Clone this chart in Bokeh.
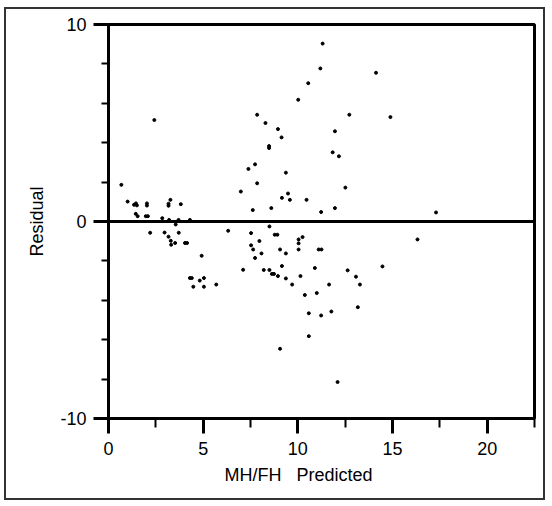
from bokeh.plotting import figure
from bokeh.models import Range1d, FixedTicker, Span, Title, PrintfTickFormatter
from bokeh.embed import file_html
from bokeh.resources import INLINE

# Predicted MH/FH values (x) and residuals (y)
predicted = [
    0.68, 1.01, 1.35, 1.45, 1.50, 2.03, 2.03, 1.44, 1.54, 1.97, 2.08, 2.84,
    3.27, 3.17, 3.17, 3.82, 2.20, 2.96, 3.17, 3.29, 3.31, 3.52, 3.71, 4.04,
    4.15, 4.92, 4.30, 4.40, 4.48, 4.82, 5.04, 5.04, 5.69, 6.32, 6.99, 7.11,
    7.39, 3.20, 3.70, 4.30, 3.55, 2.42,
    11.31, 11.19, 14.13, 10.55, 10.02, 7.85, 12.72, 8.29, 8.95, 11.96, 9.14,
    8.48, 8.48, 11.84, 12.17, 7.74, 9.37, 7.85, 12.51, 9.48, 9.16, 9.58,
    10.46, 7.62, 8.60, 11.23, 11.96,
    8.50, 7.53, 8.78, 8.92, 7.97, 7.53, 7.64, 10.25, 10.04, 10.04, 10.04,
    9.06, 8.08, 9.37, 11.10, 11.25, 7.74, 8.20, 8.50, 9.16, 10.90, 12.63,
    14.47, 8.63, 8.74, 8.95, 9.37, 10.14, 13.07, 9.70, 11.65, 13.28, 10.37,
    11.00, 10.58, 11.23, 11.77, 13.17, 10.58, 9.06, 12.10,
    14.89, 17.30, 16.32,
]
residual = [
    1.86, 1.01, 0.85, 0.92, 0.82, 0.92, 0.81, 0.39, 0.27, 0.27, 0.27, 0.17,
    1.10, 0.90, 0.80, 0.88, -0.57, -0.56, -0.77, -0.98, -1.18, -1.09, -0.57, -1.09,
    -1.09, -1.74, -2.87, -2.87, -3.31, -3.00, -2.87, -3.31, -3.20, -0.47, 1.52, -2.45,
    2.67, 0.08, 0.08, 0.08, -0.15, 5.15,
    9.03, 7.77, 7.55, 7.02, 6.18, 5.42, 5.42, 5.00, 4.69, 4.58, 4.27,
    3.83, 3.73, 3.51, 3.31, 2.90, 2.48, 1.94, 1.72, 1.42, 1.20, 1.10,
    1.10, 0.58, 0.68, 0.48, 0.68,
    -0.25, -0.59, -0.67, -0.67, -0.99, -1.21, -1.42, -0.79, -0.91, -1.11, -1.42,
    -1.42, -1.62, -1.62, -1.42, -1.42, -1.85, -2.46, -2.46, -2.26, -2.36, -2.48,
    -2.28, -2.66, -2.66, -2.77, -2.89, -2.77, -2.80, -3.20, -3.20, -3.20, -3.73,
    -3.63, -4.66, -4.77, -4.57, -4.35, -5.82, -6.46, -8.15,
    5.30, 0.46, -0.91,
]

x_major = [0, 5, 10, 15, 20]
x_minor = [2.5, 7.5, 12.5, 17.5, 22.5]
y_major = [-10, 0, 10]
y_minor = [-8, -6, -4, -2, 2, 4, 6, 8]

FONT = "Liberation Sans"

p = figure(
    width=541, height=493,
    x_range=Range1d(0, 22.5), y_range=Range1d(-10, 10),
    output_backend="svg", toolbar_location=None,
    min_border_left=102, min_border_right=13,
    min_border_top=15, min_border_bottom=84,
)
p.styles = {"border": "2px solid #333333", "margin-left": "4px", "margin-top": "7px"}

p.grid.visible = False
p.outline_line_color = "black"
p.outline_line_width = 3

for ax in (p.xaxis[0], p.yaxis[0]):
    ax.axis_line_width = 3
    ax.axis_line_color = "black"
    ax.major_tick_line_width = 3
    ax.minor_tick_line_width = 2
    ax.major_tick_line_color = "black"
    ax.minor_tick_line_color = "black"
    ax.major_tick_in = 0
    ax.minor_tick_in = 0
    ax.major_label_text_font = FONT
    ax.major_label_text_font_size = "18px"
    ax.major_label_text_color = "black"
    ax.axis_label_text_font = FONT
    ax.axis_label_text_font_size = "18px"
    ax.axis_label_text_font_style = "normal"
    ax.axis_label_text_color = "black"
    ax.formatter = PrintfTickFormatter(format="%d")

p.xaxis.ticker = FixedTicker(ticks=x_major, minor_ticks=x_minor)
p.yaxis.ticker = FixedTicker(ticks=y_major, minor_ticks=y_minor)
p.xaxis.major_tick_out = 15
p.xaxis.minor_tick_out = 9
p.yaxis.major_tick_out = 15
p.yaxis.minor_tick_out = 7
p.xaxis.major_label_standoff = 8
p.yaxis.major_label_standoff = 7
p.yaxis.axis_label = "Residual"
p.yaxis.axis_label_standoff = 10

xt = Title(text="MH/FH\u00a0\u00a0\u00a0Predicted", align="left", offset=116,
           text_font=FONT, text_font_size="18px", text_font_style="normal",
           text_color="black", standoff=10)
p.add_layout(xt, "below")

p.add_layout(Span(location=0, dimension="width", line_color="black", line_width=3))

p.scatter(predicted, residual, size=3, color="black", marker="circle")

open("out.html", "w").write(file_html(p, INLINE))
